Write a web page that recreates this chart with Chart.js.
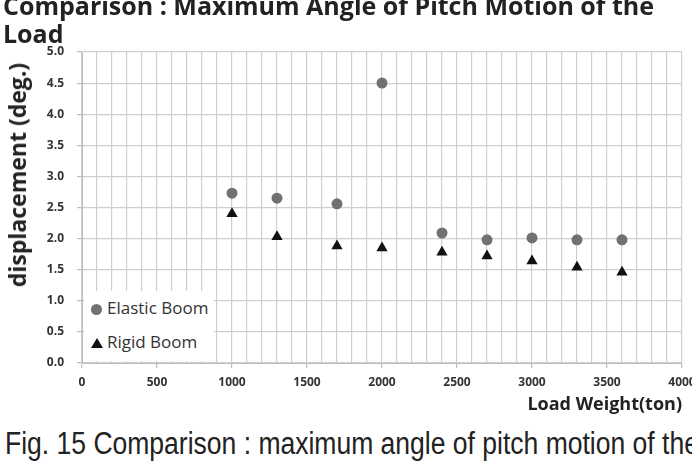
<!DOCTYPE html>
<html>
<head>
<meta charset="utf-8">
<script src="https://cdn.jsdelivr.net/npm/chart.js@4"></script>
<style>
  html, body { margin: 0; padding: 0; background: #fff; }
  #wrap { position: relative; width: 692px; height: 475px; overflow: hidden; }
  #chart { position: absolute; left: 0; top: 0; }
  .title { position: absolute; left: 3px; top: -9px; font: bold 25px "Open Sans", sans-serif; line-height: 28px; color: #222; white-space: nowrap; }
  .ytitle { position: absolute; left: 17px; top: 175px; transform: translate(-50%, -50%) rotate(-90deg); font: bold 23px "Open Sans", sans-serif; color: #222; white-space: nowrap; }
  .legend { position: absolute; left: 84px; top: 291px; width: 130px; height: 70px; background: #fff; font: 17px "Open Sans", sans-serif; color: #333; }
  .legend div { position: absolute; left: 23px; white-space: nowrap; }
  .dot { position: absolute; left: 7px; top: 13px; width: 11px; height: 11px; border-radius: 50%; background: #717171; }
  .tri { position: absolute; left: 7px; top: 47px; width: 0; height: 0; border-left: 6px solid transparent; border-right: 6px solid transparent; border-bottom: 10px solid #111; }
  .caption { position: absolute; left: 5px; top: 426px; font: 31px "Liberation Sans", sans-serif; color: #222; white-space: nowrap; transform: scaleX(0.855); transform-origin: left top; }
</style>
</head>
<body>
<div id="wrap">
  <canvas id="chart" width="692" height="420"></canvas>
  <div class="title">Comparison : Maximum Angle of Pitch Motion of the<br>Load</div>
  <div class="ytitle">displacement (deg.)</div>
  <div class="legend">
    <span class="dot"></span><div style="top:5px">Elastic Boom</div>
    <span class="tri"></span><div style="top:39px">Rigid Boom</div>
  </div>
  <div class="caption">Fig. 15 Comparison : maximum angle of pitch motion of the</div>
</div>
<script>
// values
const loads = [1000, 1300, 1700, 2000, 2400, 2700, 3000, 3300, 3600];
const elastic = [2.73, 2.65, 2.56, 4.50, 2.09, 1.98, 2.01, 1.98, 1.98];
const rigid = [2.40, 2.03, 1.88, 1.85, 1.78, 1.72, 1.64, 1.54, 1.46];

const pts = (ys) => loads.map((x, i) => ({ x, y: ys[i] }));

new Chart(document.getElementById('chart'), {
    type: 'scatter',
    data: {
        datasets: [
            { label: 'Elastic Boom', data: pts(elastic), pointStyle: 'circle', pointRadius: 5.5,
              backgroundColor: '#717171', borderColor: '#717171', borderWidth: 0 },
            { label: 'Rigid Boom', data: pts(rigid), pointStyle: 'triangle', pointRadius: 6.5,
              backgroundColor: '#111', borderColor: '#111', borderWidth: 0 }
        ]
    },
    options: {
        responsive: false, animation: false,
        layout: { padding: { top: 52, right: 0, left: 0, bottom: 0 } },
        plugins: { legend: { display: false }, tooltip: { enabled: false } },
        scales: {
            x: {
                type: 'linear', min: 0, max: 4000,
                afterFit: (s) => { s.height = 57; s.paddingRight = 10; s.paddingLeft = 0; },
                ticks: {
                    stepSize: 100, maxTicksLimit: 60, autoSkip: false, maxRotation: 0, padding: 7,
                    color: '#333', font: { family: 'Open Sans', size: 12, weight: 'bold' },
                    callback: (v) => v % 500 === 0 ? v : ''
                },
                grid: {
                    color: '#cfcfcf', lineWidth: 1.2, tickLength: 5,
                    tickColor: (ctx) => ctx.tick && ctx.tick.value % 500 === 0 ? '#bdbdbd' : 'rgba(0,0,0,0)'
                },
                border: { color: '#bdbdbd' },
                title: {
                    display: true, text: 'Load Weight(ton)', align: 'end',
                    color: '#222', font: { family: 'Open Sans', size: 18, weight: 'bold' },
                    padding: { top: 0, bottom: 4 }
                }
            },
            y: {
                min: 0, max: 5,
                afterFit: (s) => { s.width = 82; },
                ticks: {
                    stepSize: 0.5, padding: 13, color: '#333',
                    font: { family: 'Open Sans', size: 12, weight: 'bold' },
                    callback: (v) => v.toFixed(1)
                },
                grid: { color: '#cfcfcf', lineWidth: 1.2, tickLength: 5, tickColor: '#bdbdbd' },
                border: { color: '#bdbdbd' }
            }
        }
    }
});
</script>
</body>
</html>
